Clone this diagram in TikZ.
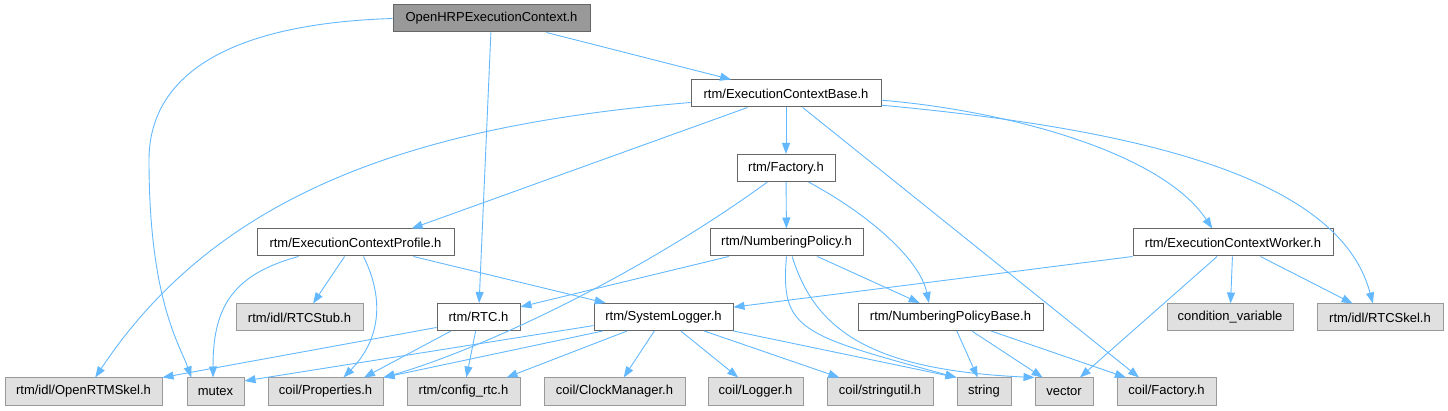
\documentclass[tikz,border=0pt]{standalone}
\usepackage{fontspec}
\setmainfont{Liberation Sans}
\usetikzlibrary{arrows.meta}

\definecolor{lineblue}{HTML}{63B8FF}
\definecolor{boxline}{HTML}{666666}
\definecolor{extfill}{HTML}{E0E0E0}
\definecolor{extline}{HTML}{999999}
\definecolor{rootfill}{HTML}{999999}

\begin{document}
\begin{tikzpicture}[x=1pt, y=-1pt,
	font=\fontsize{13}{15}\selectfont,
	file/.style={rectangle, draw=boxline, fill=white, line width=1pt, minimum height=27, inner sep=0pt},
	sysfile/.style={file, draw=extline, fill=extfill},
	mainfile/.style={file, fill=rootfill},
	>={Triangle[length=11pt, width=8pt]},
	dep/.style={->, draw=lineblue, fill=none, line width=0.9pt}]
	    \useasboundingbox (0,0) rectangle (1448,411);
	    % headers of the project
	    \node[mainfile, minimum width=197] (root) at (491.5, 18.5) {OpenHRPExecutionContext.h};
	    \node[file, minimum width=190] (ecbase) at (786, 93.5) {rtm/ExecutionContextBase.h};
	    \node[file, minimum width=98] (factory) at (786, 168) {rtm/Factory.h};
	    \node[file, minimum width=197] (ecprofile) at (355.5, 242.5) {rtm/ExecutionContextProfile.h};
	    \node[file, minimum width=153] (numpolicy) at (786.5, 242.5) {rtm/NumberingPolicy.h};
	    \node[file, minimum width=200] (ecworker) at (1233, 242.5) {rtm/ExecutionContextWorker.h};
	    \node[file, minimum width=83] (rtc) at (478.5, 317) {rtm/RTC.h};
	    \node[file, minimum width=139] (syslogger) at (663.5, 317) {rtm/SystemLogger.h};
	    \node[file, minimum width=185] (npbase) at (950.5, 317) {rtm/NumberingPolicyBase.h};
	    % headers that are not documented
	    \node[sysfile, minimum width=127] (rtcstub) at (299.5, 317.5) {rtm/idl/RTCStub.h};
	    \node[sysfile, minimum width=126] (condvar) at (1230, 317.5) {condition\_variable};
	    \node[sysfile, minimum width=126] (rtcskel) at (1380, 317.5) {rtm/idl/RTCSkel.h};
	    \node[sysfile, minimum width=157] (openrtmskel) at (83.5, 391.5) {rtm/idl/OpenRTMSkel.h};
	    \node[sysfile, minimum width=57] (mutex) at (215.5, 391.5) {mutex};
	    \node[sysfile, minimum width=115] (properties) at (325.5, 391.5) {coil/Properties.h};
	    \node[sysfile, minimum width=113] (configrtc) at (463.5, 391.5) {rtm/config\_rtc.h};
	    \node[sysfile, minimum width=141] (clockmgr) at (614.5, 391.5) {coil/ClockManager.h};
	    \node[sysfile, minimum width=95] (logger) at (755.5, 391.5) {coil/Logger.h};
	    \node[sysfile, minimum width=106] (stringutil) at (880, 391.5) {coil/stringutil.h};
	    \node[sysfile, minimum width=54] (string) at (984, 391.5) {string};
	    \node[sysfile, minimum width=58] (vector) at (1064, 391.5) {vector};
	    \node[sysfile, minimum width=99] (coilfactory) at (1166.5, 391.5) {coil/Factory.h};
	    % includes
	    \draw[dep] (root) -- (ecbase);
	    \draw[dep] (root) -- (rtc);
	    \draw[dep] (root.west) .. controls (220, 24) and (149, 80) .. (149, 160)
	        .. controls (149, 300) and (180, 345) .. (mutex.150);
	    \draw[dep] (ecbase.200) -- (ecprofile.14);
	    \draw[dep] (ecbase) -- (factory);
	    \draw[dep] (ecbase.-40) -- (coilfactory.153);
	    \draw[dep] ([yshift=-9]ecbase.west) .. controls (420, 125) and (220, 190) .. (openrtmskel.50);
	    \draw[dep] (ecbase.-4) .. controls (1000, 110) and (1160, 150) .. (ecworker.146);
	    \draw[dep] (ecbase.-7) .. controls (1150, 130) and (1340, 180) .. (rtcskel.117);
	    \draw[dep] (factory) -- (numpolicy);
	    \draw[dep] (factory.217) .. controls (640, 275) and (480, 350) .. (properties.north east);
	    \draw[dep] (factory.-32) .. controls (870, 215) and (920, 260) .. (npbase.147);
	    \draw[dep] (ecprofile.232) -- (rtcstub.46);
	    \draw[dep] (ecprofile) -- (syslogger);
	    \draw[dep] ([xshift=-57]ecprofile.south) .. controls (230, 275) and (213, 310) .. (mutex.100);
	    \draw[dep] ([xshift=8]ecprofile.south) .. controls (385, 300) and (380, 340) .. (properties.38);
	    \draw[dep] (numpolicy) -- (rtc);
	    \draw[dep] (numpolicy) -- (npbase);
	    \draw[dep] (numpolicy.south) .. controls (780, 330) and (800, 335) .. (string.north west);
	    \draw[dep] (numpolicy.-68) .. controls (815, 330) and (870, 370) .. (vector.north west);
	    \draw[dep] (ecworker.south west) -- (syslogger.8);
	    \draw[dep] (ecworker) -- (vector);
	    \draw[dep] (ecworker) -- (condvar);
	    \draw[dep] (ecworker) -- (rtcskel);
	    \draw[dep] (rtc.194) -- (openrtmskel.north east);
	    \draw[dep] (rtc.207) -- (properties.20);
	    \draw[dep] (rtc) -- (configrtc);
	    \draw[dep] (syslogger.187) -- (mutex.20);
	    \draw[dep] (syslogger.193) -- (properties.north east);
	    \draw[dep] (syslogger.201) -- (configrtc.18);
	    \draw[dep] (syslogger) -- (clockmgr);
	    \draw[dep] (syslogger) -- (logger);
	    \draw[dep] (syslogger) -- (stringutil);
	    \draw[dep] (syslogger.south east) -- (string.north west);
	    \draw[dep] (npbase) -- (string);
	    \draw[dep] (npbase) -- (vector);
	    \draw[dep] (npbase) -- (coilfactory);
	\end{tikzpicture}
\end{document}
